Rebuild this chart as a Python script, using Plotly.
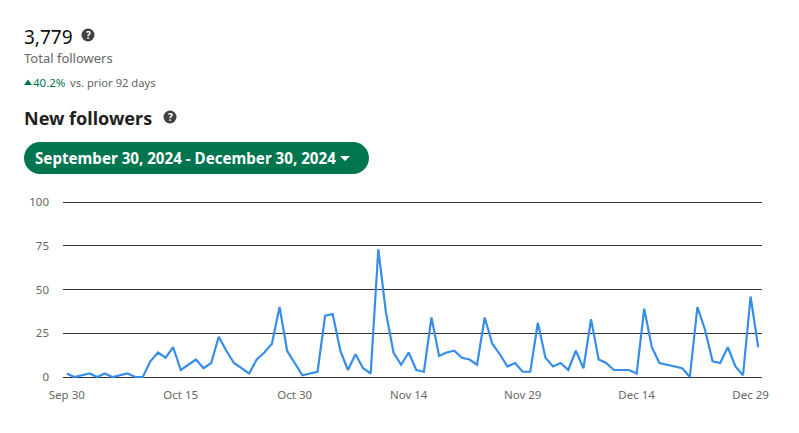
import pandas as pd
import plotly.graph_objects as go

W, H = 799, 433

dias = pd.date_range("2024-09-30", "2024-12-30").strftime("%b %d").tolist()
novos_seguidores = [
    2, 0, 1, 2, 0, 2, 0, 1, 2, 0, 0, 9, 14, 11, 17, 4, 7, 10, 5, 8, 23, 15, 8, 5, 2, 10, 14, 19, 40, 15,
    8, 1, 2, 3, 35, 36, 15, 4, 13, 5, 2, 73, 37, 14, 7, 14, 4, 3, 34, 12, 14, 15, 11, 10, 7, 34, 19, 13, 6, 8,
    3, 3, 31, 11, 6, 8, 4, 15, 5, 33, 10, 8, 4, 4, 4, 2, 39, 17, 8, 7, 6, 5, 0, 40, 27, 9, 8, 17, 6, 1, 46, 17,
]
y_ticks = [0, 25, 50, 75, 100]
x_ticks = dias[::15]
FONTE = "Noto Sans"


def px_x(x):
    return x / W


def px_y(y):
    return 1 - y / H


def texto(x, y, s, size, color, anchor="left", shift=-2):
    return dict(
        x=px_x(x), y=px_y(y), xref="paper", yref="paper", text=s, showarrow=False,
        xanchor=anchor, yanchor="middle", xshift=shift, font=dict(family=FONTE, size=size, color=color),
    )


def circulo(cx, cy, r):
    return dict(
        type="circle", xref="paper", yref="paper", x0=px_x(cx - r), x1=px_x(cx + r),
        y0=px_y(cy + r), y1=px_y(cy - r), fillcolor="#404040", line_width=0,
    )


def caminho(pontos, fill):
    d = "M " + " L ".join(f"{px_x(a):.5f},{px_y(b):.5f}" for a, b in pontos) + " Z"
    return dict(type="path", xref="paper", yref="paper", path=d, fillcolor=fill, line_width=0)


def botao(x0, y0, x1, y1, fill):
    # retangulo com pontas arredondadas
    r = (y1 - y0) / 2
    k = r * 0.55
    d = (
        f"M {px_x(x0 + r):.5f},{px_y(y0):.5f} L {px_x(x1 - r):.5f},{px_y(y0):.5f} "
        f"C {px_x(x1 - r + k):.5f},{px_y(y0):.5f} {px_x(x1):.5f},{px_y(y0 + r - k):.5f} {px_x(x1):.5f},{px_y(y0 + r):.5f} "
        f"C {px_x(x1):.5f},{px_y(y0 + r + k):.5f} {px_x(x1 - r + k):.5f},{px_y(y1):.5f} {px_x(x1 - r):.5f},{px_y(y1):.5f} "
        f"L {px_x(x0 + r):.5f},{px_y(y1):.5f} "
        f"C {px_x(x0 + r - k):.5f},{px_y(y1):.5f} {px_x(x0):.5f},{px_y(y0 + r + k):.5f} {px_x(x0):.5f},{px_y(y0 + r):.5f} "
        f"C {px_x(x0):.5f},{px_y(y0 + r - k):.5f} {px_x(x0 + r - k):.5f},{px_y(y0):.5f} {px_x(x0 + r):.5f},{px_y(y0):.5f} Z"
    )
    return dict(type="path", xref="paper", yref="paper", path=d, fillcolor=fill, line_width=0)


fig = go.Figure(
    go.Scatter(
        x=dias, y=novos_seguidores, mode="lines",
        line=dict(color="#378DE8", width=2.2), hoverinfo="x+y",
    )
)

fig.update_layout(
    width=W, height=H, margin=dict(l=0, r=0, t=0, b=0),
    paper_bgcolor="white", plot_bgcolor="white", showlegend=False,
    font=dict(family=FONTE, size=12, color="#666666"),
    shapes=[
        circulo(88, 35, 6.5),
        circulo(170, 117, 6.5),
        botao(24, 142, 369, 174, "#01754F"),
        caminho([(340, 156), (350, 156), (345, 161)], "white"),
        caminho([(24, 85), (32, 85), (28, 79.5)], "#01754F"),
    ],
    annotations=[
        texto(24, 37, "3,779", 19, "#111111"),
        texto(88, 35, "<b>?</b>", 10, "white", "center", 0),
        texto(24, 58, "Total followers", 13, "#666666"),
        texto(33, 82, "40.2%", 11.5, "#01754F"),
        texto(70, 82, "vs. prior 92 days", 11.2, "#666666"),
        texto(24, 118, "<b>New followers</b>", 18, "#1F1F1F"),
        texto(170, 117, "<b>?</b>", 10, "white", "center", 0),
        texto(35, 158, "<b>September 30, 2024 - December 30, 2024</b>", 15.15, "white"),
    ],
)

fig.update_xaxes(
    type="category", domain=[px_x(63), px_x(762)], range=[-0.5, len(dias) - 0.5], automargin=False,
    tickvals=x_ticks, ticktext=x_ticks, showgrid=False, zeroline=False, showline=False,
    ticks="", tickfont=dict(size=11.5, color="#666666"), tickangle=0, ticklabelstandoff=8,
)
fig.update_yaxes(
    domain=[px_y(378.75), px_y(200.25)], range=[-1, 101], tickvals=y_ticks, automargin=False,
    showgrid=True, gridcolor="#333333", gridwidth=1, zeroline=False, showline=False,
    ticks="", tickfont=dict(size=11.5, color="#666666"), ticklabelstandoff=13,
)

fig.write_html(
    "out.html",
    config={"displayModeBar": False},
    post_script="document.body.style.margin='0';document.body.style.overflow='hidden';",
)
